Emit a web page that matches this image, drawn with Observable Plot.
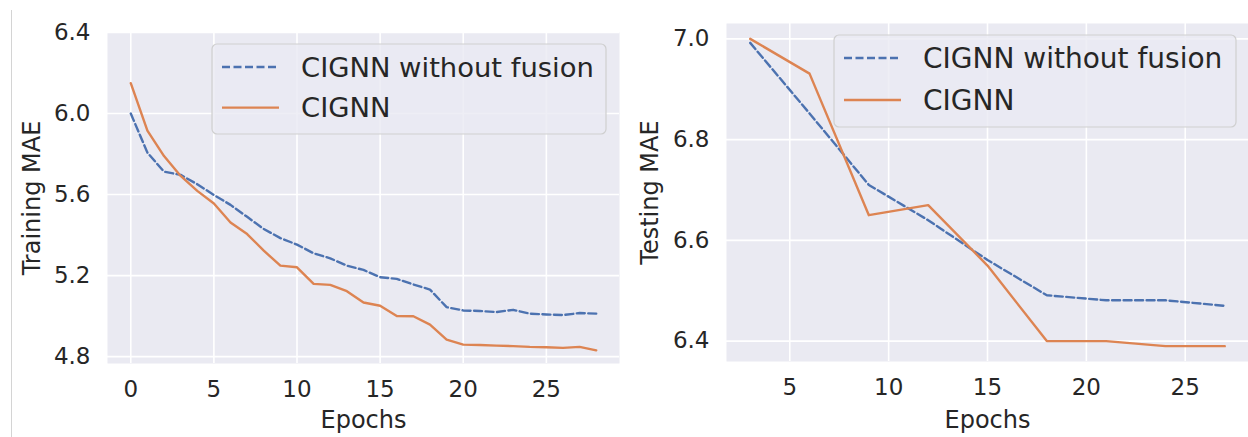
<!DOCTYPE html>
<html><head><meta charset="utf-8">
<script src="https://cdn.jsdelivr.net/npm/d3@7"></script>
<script src="https://cdn.jsdelivr.net/npm/@observablehq/plot@0.6"></script>
<style>
html,body{margin:0;padding:0;background:#fff;}
body{width:1248px;height:437px;overflow:hidden;position:relative;font-family:"DejaVu Sans",sans-serif;}
#left{position:absolute;left:0;top:0;}
#right{position:absolute;left:620px;top:0;}
#rule{position:absolute;left:11px;top:10px;width:1px;height:427px;background:#d4d4d4;}
svg{overflow:visible;}
</style></head><body>
<div id="rule"></div>
<div id="left"></div><div id="right"></div>
<script>
// ---- data ----
const seriesNames = ["CIGNN without fusion", "CIGNN"];
const seriesColors = ["#4c72b0", "#dd8452"];

const trainEpochs = [0,1,2,3,4,5,6,7,8,9,10,11,12,13,14,15,16,17,18,19,20,21,22,23,24,25,26,27,28];
const trainBase  = [6.000,5.807,5.713,5.697,5.651,5.598,5.549,5.490,5.430,5.385,5.353,5.310,5.285,5.249,5.228,5.192,5.184,5.156,5.131,5.044,5.028,5.025,5.020,5.031,5.012,5.008,5.005,5.015,5.012];
const trainCignn = [6.150,5.916,5.790,5.692,5.618,5.556,5.462,5.405,5.323,5.249,5.241,5.159,5.154,5.123,5.067,5.051,5.000,4.999,4.958,4.884,4.859,4.857,4.854,4.852,4.848,4.846,4.843,4.848,4.831];

const testEpochs = [3,6,9,12,15,18,21,24,27];
const testBase  = [6.992,6.852,6.710,6.640,6.561,6.491,6.481,6.481,6.470];
const testCignn = [7.000,6.931,6.650,6.670,6.550,6.400,6.400,6.390,6.390];

const trainXTicks = [0,5,10,15,20,25];
const trainYTicks = [4.8,5.2,5.6,6.0,6.4];
const testXTicks = [5,10,15,20,25];
const testYTicks = [6.4,6.6,6.8,7.0];

function rowsOf(epochs, base, cignn) {
  const rows = [];
  epochs.forEach((e, i) => rows.push({epoch: e, value: base[i], series: seriesNames[0]}));
  epochs.forEach((e, i) => rows.push({epoch: e, value: cignn[i], series: seriesNames[1]}));
  return rows;
}

function panel(o) {
  const rows = o.rows;
  const svg = Plot.plot({
    width: o.width, height: 437,
    marginLeft: o.ml, marginRight: o.mr, marginTop: o.mt, marginBottom: o.mb,
    style: {fontFamily: "DejaVu Sans", fontSize: "23px", color: "#262626", background: "transparent", overflow: "visible"},
    x: {domain: o.xDomain, ticks: o.xTicks, tickFormat: d => String(d), tickSize: 0, tickPadding: 17,
        label: "Epochs", labelAnchor: "center", labelArrow: "none", labelOffset: o.xLabelOffset},
    y: {domain: o.yDomain, ticks: o.yTicks, tickFormat: d => d.toFixed(1), tickSize: 0, tickPadding: 17,
        label: o.yLabel, labelAnchor: "center", labelArrow: "none", labelOffset: o.yLabelOffset},
    color: {domain: seriesNames, range: seriesColors},
    marks: [
      Plot.frame({fill: "#eaeaf2", stroke: null}),
      Plot.gridX(o.xTicks, {stroke: "#ffffff", strokeOpacity: 1, strokeWidth: 1.6}),
      Plot.gridY(o.yTicks, {stroke: "#ffffff", strokeOpacity: 1, strokeWidth: 1.6}),
      Plot.line(rows.filter(r => r.series === seriesNames[0]), {x: "epoch", y: "value", stroke: "series", strokeWidth: 2.4, strokeDasharray: "8,3.5"}),
      Plot.line(rows.filter(r => r.series === seriesNames[1]), {x: "epoch", y: "value", stroke: "series", strokeWidth: 2.4})
    ]
  });
  const s = d3.select(svg);
  s.selectAll('[aria-label$="axis label"] text').attr("font-size", 24);
  // legend
  const L = o.legend;
  const g = s.append("g").attr("font-family", "DejaVu Sans").attr("font-size", L.fs)
    .attr("fill", "#262626").attr("text-anchor", "start");
  g.append("rect").attr("x", L.x).attr("y", L.y).attr("width", L.w).attr("height", L.h).attr("rx", 5)
    .attr("fill", "#eaeaf2").attr("fill-opacity", 0.8).attr("stroke", "#cfcfcf").attr("stroke-width", 1.2);
  seriesNames.forEach((name, i) => {
    const cy = L.y + L.row0 + i * L.rowGap;
    g.append("line").attr("x1", L.x + 10).attr("x2", L.x + 67).attr("y1", cy).attr("y2", cy)
      .attr("stroke", seriesColors[i]).attr("stroke-width", 2.4)
      .attr("stroke-dasharray", i === 0 ? "8,3.5" : null);
    g.append("text").attr("x", L.x + 89).attr("y", cy).attr("dy", "0.36em")
      .attr("text-anchor", "start").text(name);
  });
  return svg;
}

document.getElementById("left").append(panel({
  rows: rowsOf(trainEpochs, trainBase, trainCignn),
  width: 620, ml: 107, mr: 1, mt: 32, mb: 74,
  xDomain: [-1.4, 29.4], yDomain: [4.766, 6.4],
  xTicks: trainXTicks, yTicks: trainYTicks, yLabel: "Training MAE",
  xLabelOffset: 64, yLabelOffset: 85,
  legend: {x: 212, y: 44, w: 394, h: 90, row0: 23, rowGap: 40.6, fs: 27.4}
}));

document.getElementById("right").append(panel({
  rows: rowsOf(testEpochs, testBase, testCignn),
  width: 628, ml: 106, mr: 0, mt: 23, mb: 76,
  xDomain: [1.8, 28.2], yDomain: [6.3595, 7.0305],
  xTicks: testXTicks, yTicks: testYTicks, yLabel: "Testing MAE",
  xLabelOffset: 66, yLabelOffset: 86,
  legend: {x: 214, y: 35, w: 402, h: 92, row0: 23, rowGap: 42, fs: 28}
}));
</script>
</body></html>
